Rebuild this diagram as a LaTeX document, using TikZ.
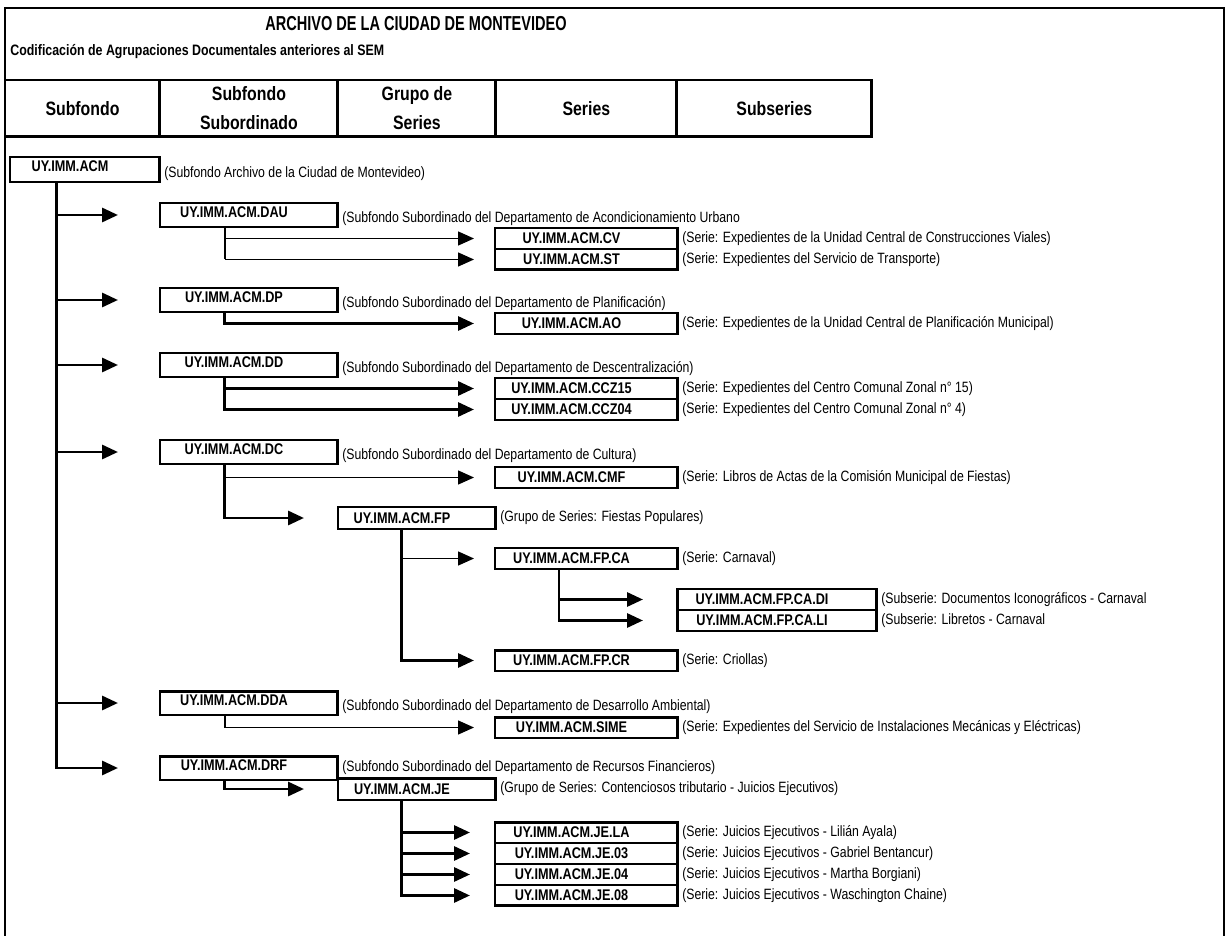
\documentclass[tikz,border=0pt]{standalone}
\usepackage{fontspec}
\setmainfont{Liberation Sans}[FakeStretch=0.82]
\newfontfamily\letrero{Liberation Sans}[FakeStretch=0.72]
\usetikzlibrary{arrows.meta,positioning}

\tikzset{
  marco/.style={line width=1.1pt},
  celda/.style={draw,line width=1.7pt,outer sep=0pt,minimum height=1.14cm,align=center,font=\bfseries\fontsize{11}{16.5}\selectfont},
  caja/.style={draw,line width=1.7pt,outer sep=0pt,inner sep=0pt,anchor=north west,font=\bfseries\fontsize{8.8}{10}\selectfont,execute at end node={\hspace{0.6cm}}},
  fondo/.style={caja,minimum width=3cm,minimum height=0.5cm,text depth=0.12cm},
  subfondo/.style={caja,minimum width=3.56cm,minimum height=0.48cm,text depth=0.12cm},
  grupo/.style={caja,minimum width=3.16cm,minimum height=0.44cm},
  serie/.style={caja,minimum width=3.66cm,minimum height=0.42cm},
  subserie/.style={caja,minimum width=4cm,minimum height=0.42cm},
  nota/.style={anchor=west,inner sep=0pt,font=\fontsize{8.5}{10}\selectfont},
  rama/.style={line width=1.6pt},
  flecha/.style={line width=1.7pt,-{Triangle[length=0.32cm,width=0.28cm]}},
  flechita/.style={line width=0.8pt,-{Triangle[length=0.32cm,width=0.28cm]}},
}

\begin{document}
\begin{tikzpicture}[x=0.02cm,y=-0.02cm]
\useasboundingbox (0,0) rectangle (1227,936);
\draw[marco] (5,936) |- (1224,8) -- (1224,936);

\node[font=\letrero\bfseries\fontsize{11.5}{13}\selectfont] (titulo) at (416,24) {ARCHIVO DE LA CIUDAD DE MONTEVIDEO};
\node[anchor=west,inner sep=0pt,font=\bfseries\fontsize{8.6}{10}\selectfont] (subtitulo) at (10,52) {Codificación de Agrupaciones Documentales anteriores al SEM};

% cabecera de niveles
\node[celda,minimum width=3.1cm,anchor=north west] (h1) at (5,80) {Subfondo};
\node[celda,minimum width=3.56cm,right=0pt of h1] (h2) {Subfondo\\Subordinado};
\node[celda,minimum width=3.16cm,right=0pt of h2] (h3) {Grupo de\\Series};
\node[celda,minimum width=3.62cm,right=0pt of h3] (h4) {Series};
\node[celda,minimum width=3.9cm,right=0pt of h4] (h5) {Subseries};

% cajas
\node[fondo] (acm) at (10,157) {UY.IMM.ACM};
\node[subfondo] (dau) at (160,203) {UY.IMM.ACM.DAU};
\node[serie] (cv) at (495,228) {UY.IMM.ACM.CV};
\node[serie,below=0pt of cv] (st) {UY.IMM.ACM.ST};
\node[subfondo] (dp) at (160,288) {UY.IMM.ACM.DP};
\node[serie] (ao) at (495,313) {UY.IMM.ACM.AO};
\node[subfondo] (dd) at (160,353) {UY.IMM.ACM.DD};
\node[serie] (ccz15) at (495,378) {UY.IMM.ACM.CCZ15};
\node[serie,below=0pt of ccz15] (ccz04) {UY.IMM.ACM.CCZ04};
\node[subfondo] (dc) at (160,440) {UY.IMM.ACM.DC};
\node[serie] (cmf) at (495,467) {UY.IMM.ACM.CMF};
\node[grupo] (fp) at (338,507) {UY.IMM.ACM.FP};
\node[serie] (ca) at (495,548) {UY.IMM.ACM.FP.CA};
\node[subserie] (di) at (677,589) {UY.IMM.ACM.FP.CA.DI};
\node[subserie,below=0pt of di] (li) {UY.IMM.ACM.FP.CA.LI};
\node[serie] (cr) at (495,650) {UY.IMM.ACM.FP.CR};
\node[subfondo] (dda) at (160,691) {UY.IMM.ACM.DDA};
\node[serie] (sime) at (495,717) {UY.IMM.ACM.SIME};
\node[subfondo] (drf) at (160,756) {UY.IMM.ACM.DRF};
\node[grupo] (je) at (338,778) {UY.IMM.ACM.JE};
\node[serie] (jela) at (495,822) {UY.IMM.ACM.JE.LA};
\node[serie,below=0pt of jela] (je03) {UY.IMM.ACM.JE.03};
\node[serie,below=0pt of je03] (je04) {UY.IMM.ACM.JE.04};
\node[serie,below=0pt of je04] (je08) {UY.IMM.ACM.JE.08};

% descripciones
\node[nota] (acm-n) at ([xshift=0.08cm,yshift=-0.08cm]acm.east) {(Subfondo Archivo de la Ciudad de Montevideo)};
\node[nota] (dau-n) at ([xshift=0.08cm,yshift=-0.08cm]dau.east) {(Subfondo Subordinado del Departamento de Acondicionamiento Urbano};
\node[nota] (cv-n) at ([xshift=0.08cm]cv.east) {(Serie: Expedientes de la Unidad Central de Construcciones Viales)};
\node[nota] (st-n) at ([xshift=0.08cm]st.east) {(Serie: Expedientes del Servicio de Transporte)};
\node[nota] (dp-n) at ([xshift=0.08cm,yshift=-0.08cm]dp.east) {(Subfondo Subordinado del Departamento de Planificación)};
\node[nota] (ao-n) at ([xshift=0.08cm]ao.east) {(Serie: Expedientes de la Unidad Central de Planificación Municipal)};
\node[nota] (dd-n) at ([xshift=0.08cm,yshift=-0.08cm]dd.east) {(Subfondo Subordinado del Departamento de Descentralización)};
\node[nota] (ccz15-n) at ([xshift=0.08cm]ccz15.east) {(Serie: Expedientes del Centro Comunal Zonal n° 15)};
\node[nota] (ccz04-n) at ([xshift=0.08cm]ccz04.east) {(Serie: Expedientes del Centro Comunal Zonal n° 4)};
\node[nota] (dc-n) at ([xshift=0.08cm,yshift=-0.08cm]dc.east) {(Subfondo Subordinado del Departamento de Cultura)};
\node[nota] (cmf-n) at ([xshift=0.08cm]cmf.east) {(Serie: Libros de Actas de la Comisión Municipal de Fiestas)};
\node[nota] (fp-n) at ([xshift=0.08cm]fp.east) {(Grupo de Series: Fiestas Populares)};
\node[nota] (ca-n) at ([xshift=0.08cm]ca.east) {(Serie: Carnaval)};
\node[nota] (di-n) at ([xshift=0.08cm]di.east) {(Subserie: Documentos Iconográficos - Carnaval};
\node[nota] (li-n) at ([xshift=0.08cm]li.east) {(Subserie: Libretos - Carnaval};
\node[nota] (cr-n) at ([xshift=0.08cm]cr.east) {(Serie: Criollas)};
\node[nota] (dda-n) at ([xshift=0.08cm,yshift=-0.08cm]dda.east) {(Subfondo Subordinado del Departamento de Desarrollo Ambiental)};
\node[nota] (sime-n) at ([xshift=0.08cm]sime.east) {(Serie: Expedientes del Servicio de Instalaciones Mecánicas y Eléctricas)};
\node[nota] (drf-n) at ([xshift=0.08cm]drf.east) {(Subfondo Subordinado del Departamento de Recursos Financieros)};
\node[nota] (je-n) at ([xshift=0.08cm]je.east) {(Grupo de Series: Contenciosos tributario - Juicios Ejecutivos)};
\node[nota] (jela-n) at ([xshift=0.08cm]jela.east) {(Serie: Juicios Ejecutivos - Lilián Ayala)};
\node[nota] (je03-n) at ([xshift=0.08cm]je03.east) {(Serie: Juicios Ejecutivos - Gabriel Bentancur)};
\node[nota] (je04-n) at ([xshift=0.08cm]je04.east) {(Serie: Juicios Ejecutivos - Martha Borgiani)};
\node[nota] (je08-n) at ([xshift=0.08cm]je08.east) {(Serie: Juicios Ejecutivos - Waschington Chaine)};

% puntos de bajada
\coordinate (acm-r) at ([xshift=0.94cm]acm.south west);
\coordinate (dau-r) at ([xshift=1.3cm]dau.south west);
\coordinate (dp-r) at ([xshift=1.3cm]dp.south west);
\coordinate (dd-r) at ([xshift=1.3cm]dd.south west);
\coordinate (dc-r) at ([xshift=1.3cm]dc.south west);
\coordinate (fp-r) at ([xshift=1.28cm]fp.south west);
\coordinate (ca-r) at ([xshift=1.28cm]ca.south west);
\coordinate (dda-r) at ([xshift=1.3cm]dda.south west);
\coordinate (drf-r) at ([xshift=1.3cm]drf.south west);
\coordinate (je-r) at ([xshift=1.28cm]je.south west);

% subfondo
\draw[flecha,shorten >=0.84cm] (acm-r) |- (drf);
\draw[flecha,shorten >=0.84cm] (acm-r |- dau) -- (dau);
\draw[flecha,shorten >=0.84cm] (acm-r |- dp) -- (dp);
\draw[flecha,shorten >=0.84cm] (acm-r |- dd) -- (dd);
\draw[flecha,shorten >=0.84cm] (acm-r |- dc) -- (dc);
\draw[flecha,shorten >=0.84cm] (acm-r |- dda) -- (dda);

% subfondos subordinados
\draw[rama] (dau-r) -- (dau-r |- st);
\draw[flechita,shorten >=0.42cm] (dau-r |- cv) -- (cv);
\draw[flechita,shorten >=0.42cm] (dau-r |- st) -- (st);
\draw[flecha,shorten >=0.42cm] (dp-r) |- (ao);
\draw[flecha,shorten >=0.42cm] (dd-r) |- (ccz04);
\draw[flecha,shorten >=0.42cm] (dd-r |- ccz15) -- (ccz15);
\draw[flecha,shorten >=0.68cm] (dc-r) |- (fp);
\draw[flechita,shorten >=0.42cm] (dc-r |- cmf) -- (cmf);
\draw[rama] (dda-r) -- (dda-r |- sime);
\draw[flechita,shorten >=0.42cm] (dda-r |- sime) -- (sime);
\draw[flecha,shorten >=0.68cm] (drf-r) |- (je);

% grupos de series
\draw[flecha,shorten >=0.42cm] (fp-r) |- (cr);
\draw[flechita,shorten >=0.42cm] (fp-r |- ca) -- (ca);
\draw[flecha,shorten >=0.68cm] (ca-r) |- (li);
\draw[flecha,shorten >=0.68cm] (ca-r |- di) -- (di);
\draw[flecha,shorten >=0.5cm] (je-r) |- (je08);
\draw[flecha,shorten >=0.5cm] (je-r |- jela) -- (jela);
\draw[flecha,shorten >=0.5cm] (je-r |- je03) -- (je03);
\draw[flecha,shorten >=0.5cm] (je-r |- je04) -- (je04);
\end{tikzpicture}
\end{document}
